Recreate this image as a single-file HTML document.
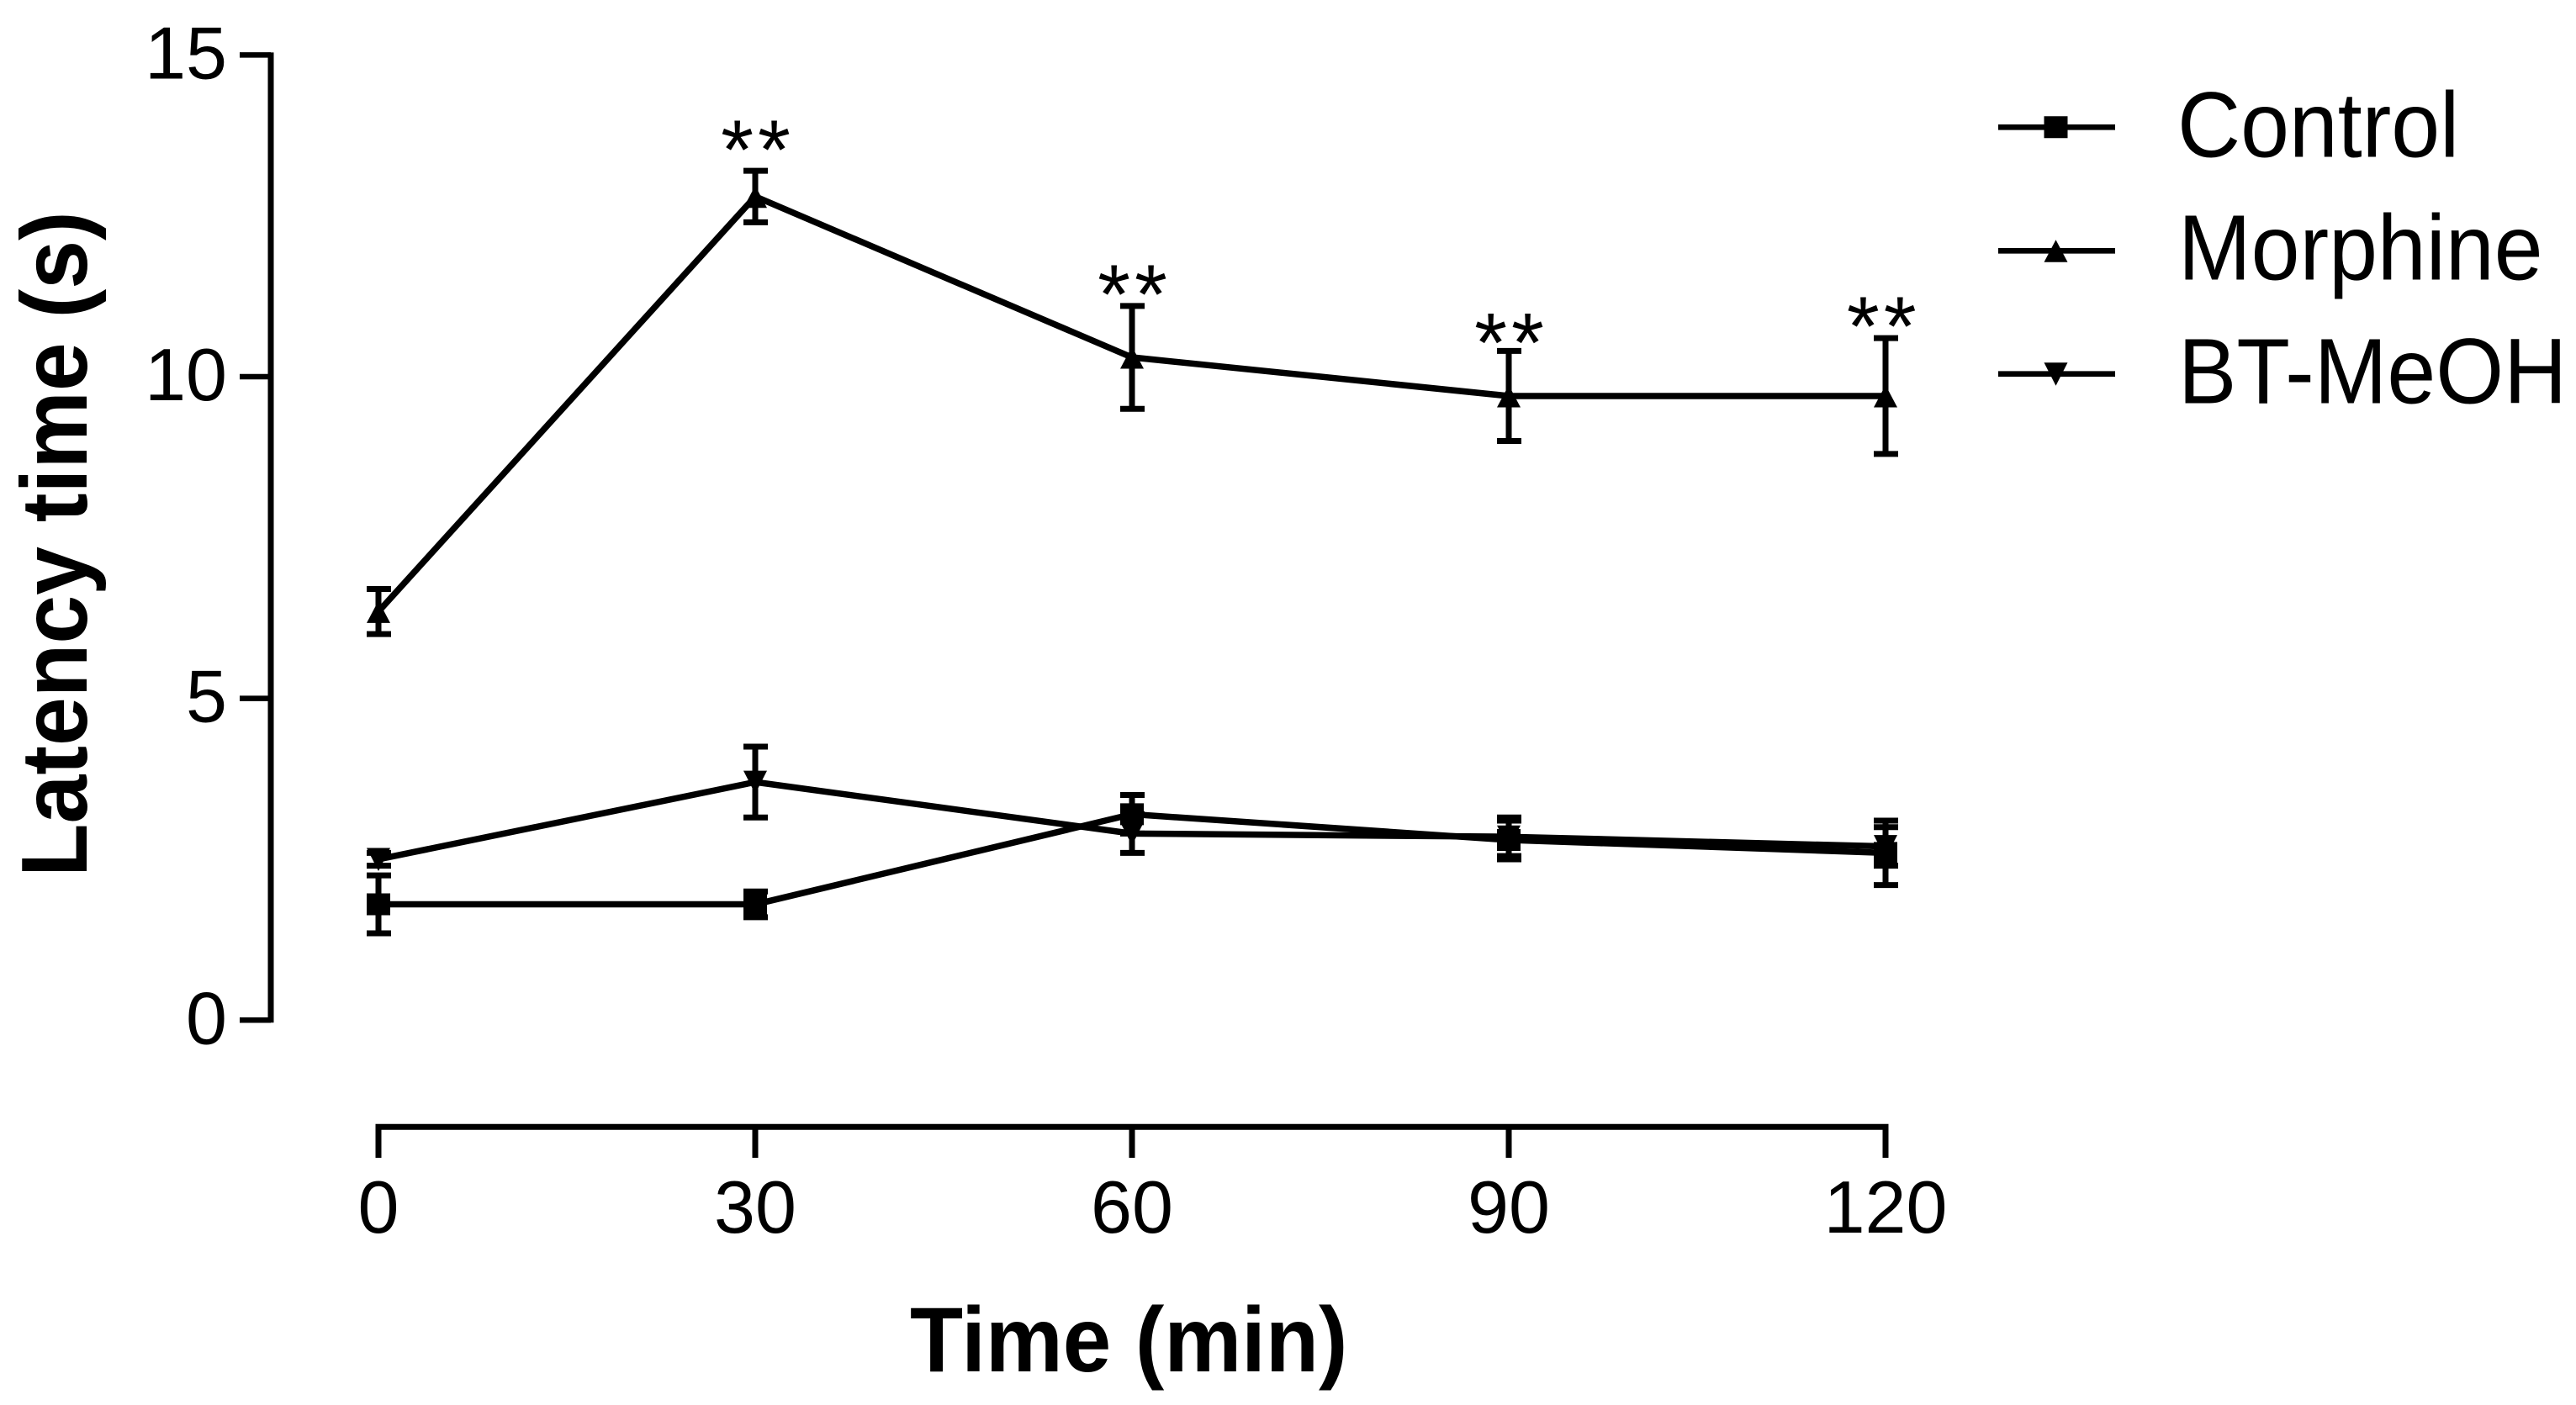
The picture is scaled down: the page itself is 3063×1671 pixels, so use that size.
<!DOCTYPE html>
<html lang="en">
<head>
<meta charset="utf-8">
<title>Latency time chart</title>
<style>
html,body{margin:0;padding:0;background:#fff;}
svg{display:block;}
text{font-family:"Liberation Sans",Arial,sans-serif;fill:#000;}
</style>
</head>
<body>
<svg id="chart" xmlns="http://www.w3.org/2000/svg" width="3063" height="1671" viewBox="0 0 3063 1671">
<rect x="0" y="0" width="3063" height="1671" fill="#fff"/>
<g id="series-layer"></g>
<g id="y-axis"></g>
<g id="x-axis"></g>
<g id="stars"></g>
<g id="legend"></g>
<text transform="translate(103,1043) rotate(-90) scale(1,1.07)" font-size="104" font-weight="700">Latency time (s)</text>
<text transform="translate(1082,1631) scale(1,1.06)" font-size="103.3" font-weight="700">Time (min)</text>
</svg>
<script>
const timePoints = [0, 30, 60, 90, 120];
const yTickValues = [0, 5, 10, 15];
const seriesNames = ['Control', 'Morphine', 'BT-MeOH'];
const controlMeans = [1.8, 1.8, 3.2, 2.8, 2.6];
const controlErrors = [0.45, 0.2, 0.3, 0.3, 0.5];
const morphineMeans = [6.35, 12.8, 10.3, 9.7, 9.7];
const morphineErrors = [0.35, 0.4, 0.8, 0.7, 0.9];
const btMeohMeans = [2.5, 3.7, 2.9, 2.85, 2.7];
const btMeohErrors = [0.1, 0.55, 0.3, 0.3, 0.3];
const starTimes = [30, 60, 90, 119.65];
const starLevels = [13.08, 10.83, 10.08, 10.33];

const SVG_NS = 'http://www.w3.org/2000/svg';
function xScale(t) { return 450 + (t / 30) * 448; }
function yScale(v) { return 1213.3 - v * 76.53; }
function make(tag, attrs, parent) {
  const el = document.createElementNS(SVG_NS, tag);
  for (const k in attrs) el.setAttribute(k, attrs[k]);
  parent.appendChild(el);
  return el;
}
function markerPoints(kind, cx, cy) {
  if (kind === 'square') return [[cx-14,cy-13],[cx+14,cy-13],[cx+14,cy+13],[cx-14,cy+13]];
  if (kind === 'up') return [[cx,cy-13],[cx+14,cy+13.5],[cx-14,cy+13.5]];
  return [[cx-14,cy-13.5],[cx+14,cy-13.5],[cx,cy+14]];
}
function pointsAttr(p) { return p.map(function (q) { return q[0] + ',' + q[1]; }).join(' '); }

/* Series */
const layer = document.getElementById('series-layer');
const seriesList = [
  { name: seriesNames[0], key: 'control', means: controlMeans, errs: controlErrors, marker: 'square' },
  { name: seriesNames[1], key: 'morphine', means: morphineMeans, errs: morphineErrors, marker: 'up' },
  { name: seriesNames[2], key: 'bt-meoh', means: btMeohMeans, errs: btMeohErrors, marker: 'down' }
];
seriesList.forEach(function (s) {
  const g = make('g', {}, layer);
  
  
  const line = make('polyline', {
    points: s.means.map(function (m, i) { return xScale(timePoints[i]) + ',' + yScale(m); }).join(' '),
    fill: 'none', stroke: '#000', 'stroke-width': 7.5, 'stroke-linejoin': 'round'
  }, g);
  
  
  s.means.forEach(function (m, i) {
    const cx = xScale(timePoints[i]);
    const top = yScale(m + s.errs[i]);
    const bot = yScale(m - s.errs[i]);
    const err = make('path', {
      d: 'M' + cx + ' ' + top + 'V' + bot + 'M' + (cx-14) + ' ' + top + 'H' + (cx+15) + 'M' + (cx-14) + ' ' + bot + 'H' + (cx+15),
      fill: 'none', stroke: '#000', 'stroke-width': 7
    }, g);
    
    
    const mk = make('polygon', { points: pointsAttr(markerPoints(s.marker, cx, yScale(m))), fill: '#000' }, g);
    
    
  });
});

/* Y axis */
const yAxis = document.getElementById('y-axis');
const yMax = yTickValues[yTickValues.length - 1];
const yLine = make('line', { x1: 322, x2: 322, y1: yScale(yMax) - 3, y2: yScale(0) + 3, stroke: '#000', 'stroke-width': 7 }, yAxis);


yTickValues.forEach(function (v) {
  const tick = make('line', { x1: 285, x2: 322, y1: yScale(v), y2: yScale(v), stroke: '#000', 'stroke-width': 6.5 }, yAxis);
  
  
  const lab = make('text', { x: 270, y: yScale(v) + 28, 'text-anchor': 'end', 'font-size': 88 }, yAxis);
  lab.textContent = String(v);
  
  
});

/* X axis */
const xAxis = document.getElementById('x-axis');
const xLine = make('line', { x1: xScale(timePoints[0]) - 3.5, x2: xScale(timePoints[timePoints.length-1]) + 3.5, y1: 1340.3, y2: 1340.3, stroke: '#000', 'stroke-width': 7 }, xAxis);


timePoints.forEach(function (t) {
  const tick = make('line', { x1: xScale(t), x2: xScale(t), y1: 1338, y2: 1377, stroke: '#000', 'stroke-width': 7 }, xAxis);
  
  
  const lab = make('text', { x: xScale(t), y: 1466, 'text-anchor': 'middle', 'font-size': 88 }, xAxis);
  lab.textContent = String(t);
  
  
});

/* Significance stars */
const starGroup = document.getElementById('stars');
starTimes.forEach(function (t, i) {
  const st = make('text', { x: xScale(t) + 3, y: yScale(starLevels[i]), 'text-anchor': 'middle', 'font-size': 100, 'letter-spacing': 5 }, starGroup);
  st.textContent = '**';
  
  
});

/* Legend */
const legend = document.getElementById('legend');
const legendRows = [151.3, 298.3, 444.7];
const legendBaselines = [186.7, 332.7, 479.3];
const legendTextX = [2589, 2590, 2590];
seriesList.forEach(function (s, i) {
  const g = make('g', {}, legend);
  
  
  const l = make('line', { x1: 2376, x2: 2515, y1: legendRows[i], y2: legendRows[i], stroke: '#000', 'stroke-width': 6.7 }, g);
  
  
  const m = make('polygon', { points: pointsAttr(markerPoints(s.marker, 2444.5, legendRows[i])), fill: '#000' }, g);
  
  
  const t = make('text', { transform: 'translate(' + legendTextX[i] + ',' + legendBaselines[i] + ') scale(1,1.06)', 'font-size': 104 }, g);
  t.textContent = s.name;
  
  
});
</script>
</body>
</html>
